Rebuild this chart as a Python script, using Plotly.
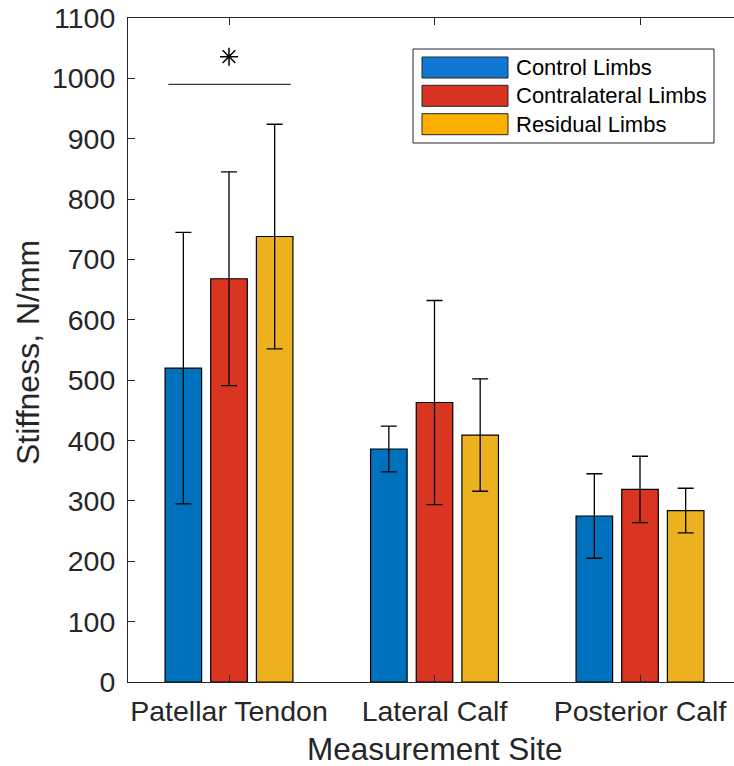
import plotly.graph_objects as go

categories = ["Patellar Tendon", "Lateral Calf", "Posterior Calf"]
series_names = ["Control Limbs", "Contralateral Limbs", "Residual Limbs"]
control_mean = [520, 386, 275]
control_sd = [225, 38, 70]
contra_mean = [668, 463, 319]
contra_sd = [177, 169, 55]
residual_mean = [738, 409, 284]
residual_sd = [186, 93, 37]
y_ticks = [0, 100, 200, 300, 400, 500, 600, 700, 800, 900, 1000, 1100]

sig_x = [0.705, 1.30]
sig_y = 990
star_x = 1
star_y = 1036

bar_colors = ["#0072BD", "#D93521", "#EDB120"]
legend_colors = ["#1077D3", "#D83222", "#FBB000"]
TXT = "#262626"
FONT = "Liberation Sans, Arial, sans-serif"

xpos = [1, 2, 3]
means = [control_mean, contra_mean, residual_mean]
sds = [control_sd, contra_sd, residual_sd]

fig = go.Figure()
for name, m, s, c in zip(series_names, means, sds, bar_colors):
    fig.add_trace(go.Bar(
        x=xpos, y=m, name=name, showlegend=False,
        marker=dict(color=c, line=dict(color="#000000", width=1.2)),
        error_y=dict(type="data", array=s, visible=True, color="#000000",
                     thickness=1.3, width=8),
    ))

# significance bar and asterisk
fig.add_trace(go.Scatter(x=sig_x, y=[sig_y, sig_y], mode="lines",
                         line=dict(color="#3a3a3a", width=1.3),
                         showlegend=False, hoverinfo="skip"))
fig.add_trace(go.Scatter(x=[star_x], y=[star_y], mode="markers",
                         marker=dict(symbol="asterisk-open", size=15, color="#000000",
                                     line=dict(color="#000000", width=1.5)),
                         showlegend=False, hoverinfo="skip"))

W, H = 734, 766
L, R, T, B = 128, 0, 18, 84
pw = W - L - R
ph = H - T - B

def px(x):
    return (x - L) / pw

def py(y):
    return (H - B - y) / ph

shapes = []
annotations = []
# manual legend
shapes.append(dict(type="rect", xref="paper", yref="paper",
                   x0=px(413), x1=px(714), y0=py(143), y1=py(49),
                   line=dict(color="#262626", width=1), fillcolor="white"))
row_y = [67.5, 95.8, 124.2]
for name, c, ry in zip(series_names, legend_colors, row_y):
    shapes.append(dict(type="rect", xref="paper", yref="paper",
                       x0=px(422), x1=px(508), y0=py(ry + 10.5), y1=py(ry - 10.5),
                       line=dict(color="#262626", width=1), fillcolor=c))
    annotations.append(dict(text=name, xref="paper", yref="paper",
                            x=px(514), y=py(ry), xanchor="left", yanchor="middle",
                            showarrow=False, font=dict(family=FONT, size=22, color="#000000")))

annotations.append(dict(text="Measurement Site", xref="paper", yref="paper",
                        x=px(435), y=py(749), xanchor="center", yanchor="middle",
                        showarrow=False, font=dict(family=FONT, size=31.5, color=TXT)))
annotations.append(dict(text="Stiffness, N/mm", xref="paper", yref="paper",
                        x=px(28), y=py(353), xanchor="center", yanchor="middle",
                        textangle=-90, showarrow=False,
                        font=dict(family=FONT, size=32, color=TXT)))

fig.update_layout(
    width=W, height=H,
    margin=dict(l=L, r=R, t=T, b=B, pad=0),
    paper_bgcolor="white", plot_bgcolor="white",
    barmode="group", bargap=1/3, bargroupgap=0.2,
    font=dict(family=FONT, color=TXT, size=28),
    shapes=shapes, annotations=annotations,
    xaxis=dict(range=[0.5085, 3.4574], tickmode="array", tickvals=xpos,
               ticktext=categories, ticks="inside", ticklen=7,
               tickcolor="#262626", showline=True, linecolor="#262626",
               linewidth=1, mirror="ticks", showgrid=False, zeroline=False,
               ticklabelstandoff=4,
               tickfont=dict(size=28.5, color=TXT)),
    yaxis=dict(range=[0, 1100], tickmode="array", tickvals=y_ticks,
               ticks="inside", ticklen=7, tickcolor="#262626",
               showline=True, linecolor="#262626", linewidth=1,
               showgrid=False, zeroline=False, ticklabelstandoff=6,
               tickfont=dict(size=28.5, color=TXT)),
)

fig.write_html("out.html", config={"displayModeBar": False},
               post_script="document.body.style.margin='0';document.body.style.overflow='hidden';")
